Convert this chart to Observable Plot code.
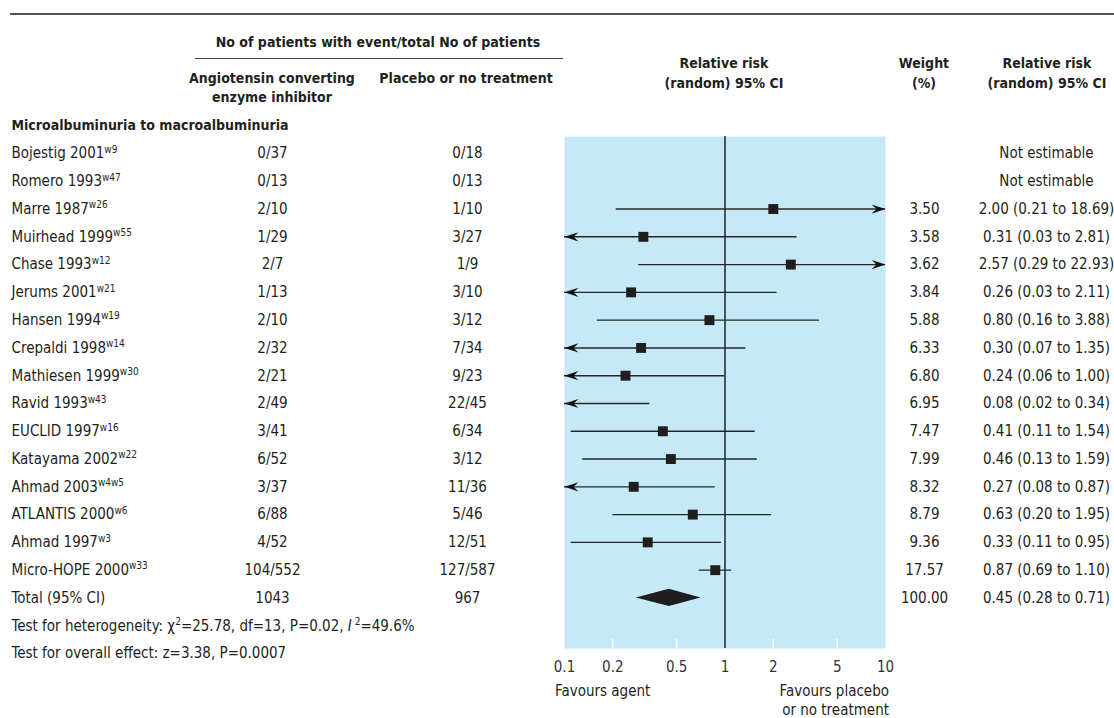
<!DOCTYPE html>
<html>
<head>
<meta charset="utf-8">
<script src="https://cdn.jsdelivr.net/npm/d3@7"></script>
<script src="https://cdn.jsdelivr.net/npm/@observablehq/plot@0.6"></script>
<style>
  html, body { margin: 0; padding: 0; background: #fff; }
  #wrap { position: relative; width: 1114px; height: 718px; overflow: hidden;
          font-family: "Liberation Sans Narrow", "DejaVu Sans Condensed", sans-serif; color: #231f20; font-size: 15px; }
  #wrap svg { position: absolute; left: 0; top: 0; }
  .h { position: absolute; font-weight: bold; font-size: 14px; text-align: center; line-height: 19px; white-space: nowrap; transform: translateX(-50%); }
  .t { position: absolute; white-space: nowrap; line-height: 19px; }
  .rule { position: absolute; height: 0; }
</style>
</head>
<body>
<div id="wrap">
  <div class="rule" style="left:10px; top:13px; width:1104px; border-top:2px solid #555;"></div>
  <div class="h" style="left:378px; top:32.5px;">No of patients with event/total No of patients</div>
  <div class="rule" style="left:195px; top:58px; width:368px; border-top:1.5px solid #444;"></div>
  <div class="h" style="left:272px; top:68.5px;">Angiotensin converting<br>enzyme inhibitor</div>
  <div class="h" style="left:466px; top:68.5px;">Placebo or no treatment</div>
  <div class="h" style="left:724px; top:53px; line-height:20px;">Relative risk<br>(random) 95% CI</div>
  <div class="h" style="left:924px; top:53px; line-height:20px;">Weight<br>(%)</div>
  <div class="h" style="left:1047px; top:53px; line-height:20px;">Relative risk<br>(random) 95% CI</div>
  <div class="t" style="left:555px; top:682px;">Favours agent</div>
  <div class="t" style="left:889px; top:682px; transform:translateX(-100%); text-align:right;">Favours placebo<br>or no treatment</div>
</div>
<script>
// ---------- data ----------
const subgroupTitle = "Microalbuminuria to macroalbuminuria";
const studies = ["Bojestig 2001", "Romero 1993", "Marre 1987", "Muirhead 1999", "Chase 1993", "Jerums 2001",
  "Hansen 1994", "Crepaldi 1998", "Mathiesen 1999", "Ravid 1993", "EUCLID 1997", "Katayama 2002",
  "Ahmad 2003", "ATLANTIS 2000", "Ahmad 1997", "Micro-HOPE 2000"];
const refs = ["w9", "w47", "w26", "w55", "w12", "w21", "w19", "w14", "w30", "w43", "w16", "w22", "w4w5", "w6", "w3", "w33"];
const aceEvents = ["0/37", "0/13", "2/10", "1/29", "2/7", "1/13", "2/10", "2/32", "2/21", "2/49", "3/41", "6/52", "3/37", "6/88", "4/52", "104/552"];
const placeboEvents = ["0/18", "0/13", "1/10", "3/27", "1/9", "3/10", "3/12", "7/34", "9/23", "22/45", "6/34", "3/12", "11/36", "5/46", "12/51", "127/587"];
const rrValues = [null, null, 2.00, 0.31, 2.57, 0.26, 0.80, 0.30, 0.24, 0.08, 0.41, 0.46, 0.27, 0.63, 0.33, 0.87];
const ciLower  = [null, null, 0.21, 0.03, 0.29, 0.03, 0.16, 0.07, 0.06, 0.02, 0.11, 0.13, 0.08, 0.20, 0.11, 0.69];
const ciUpper  = [null, null, 18.69, 2.81, 22.93, 2.11, 3.88, 1.35, 1.00, 0.34, 1.54, 1.59, 0.87, 1.95, 0.95, 1.10];
const weights  = [null, null, 3.50, 3.58, 3.62, 3.84, 5.88, 6.33, 6.80, 6.95, 7.47, 7.99, 8.32, 8.79, 9.36, 17.57];
const totalLabel = "Total (95% CI)";
const totalAce = "1043";
const totalPlacebo = "967";
const totalRR = 0.45, totalLower = 0.28, totalUpper = 0.71, totalWeight = 100.00;
const heterogeneityText = "Test for heterogeneity: χ^2^=25.78, df=13, P=0.02, *I*^ 2^=49.6%";
const overallText = "Test for overall effect: z=3.38, P=0.0007";
const xTicks = [0.1, 0.2, 0.5, 1, 2, 5, 10];

// ---------- layout (pixels) ----------
const L = { width: 1114, height: 718, plotLeft: 564, plotRight: 885, plotTop: 136, plotBottom: 648,
  firstRowY: 125.2, lastRowY: 653, studyX: 11, aceX: 272, placeboX: 467, weightX: 924, rrX: 1046 };
const INK = "#231f20";
const FONT = '"Liberation Sans Narrow", "DejaVu Sans Condensed", sans-serif';

// ---------- derived table ----------
const rows = studies.map((s, i) => ({
  i, label: `${s}^${refs[i]}^`, ace: aceEvents[i], pla: placeboEvents[i],
  rr: rrValues[i], lo: ciLower[i], hi: ciUpper[i], w: weights[i]
}));
const totalRow = { i: studies.length, label: totalLabel, ace: totalAce, pla: totalPlacebo,
  rr: totalRR, lo: totalLower, hi: totalUpper, w: totalWeight };
const allRows = [...rows, totalRow];
const notes = [{ i: studies.length + 1, label: heterogeneityText }, { i: studies.length + 2, label: overallText }];
const header = [{ i: -1, label: subgroupTitle }];
const est = rows.filter(d => d.rr != null);
const xMin = xTicks[0], xMax = xTicks[xTicks.length - 1];
const fmt = v => v.toFixed(2);
const rrText = d => d.rr == null ? "Not estimable" : `${fmt(d.rr)} (${fmt(d.lo)} to ${fmt(d.hi)})`;
const diamond = [
  { x: totalRow.lo, y1: totalRow.i, y2: totalRow.i },
  { x: totalRow.rr, y1: totalRow.i - 0.31, y2: totalRow.i + 0.31 },
  { x: totalRow.hi, y1: totalRow.i, y2: totalRow.i }
];

// barbed arrowhead, tip at origin pointing right
const stealth = { draw(ctx) { ctx.moveTo(0, 0); ctx.lineTo(-14, -4.6); ctx.lineTo(-9, 0); ctx.lineTo(-14, 4.6); ctx.closePath(); } };

const textCol = (key, anchorSide, xPos, opts = {}) => Plot.text(opts.data || allRows, {
  y: "i", text: key, frameAnchor: anchorSide,
  dx: xPos - (anchorSide === "left" ? L.plotLeft : L.plotRight),
  textAnchor: opts.textAnchor || "middle", fill: INK,
  fontWeight: opts.fontWeight, fontSize: opts.fontSize
});

const chart = Plot.plot({
  width: L.width, height: L.height,
  marginLeft: L.plotLeft, marginRight: L.width - L.plotRight,
  marginTop: L.plotTop, marginBottom: L.height - L.plotBottom,
  style: { fontFamily: FONT, fontSize: "15px", color: INK, background: "transparent", overflow: "visible" },
  x: { type: "log", domain: [xMin, xMax], axis: null },
  y: { type: "linear", domain: [-1, studies.length + 2], range: [L.firstRowY, L.lastRowY], axis: null },
  marks: [
    Plot.frame({ fill: "#c6e9f8", stroke: null }),
    Plot.axisX({ ticks: xTicks.filter(t => t > xMin && t < xMax && t !== 1), tickSize: 9, dy: -9, stroke: "white", strokeWidth: 1.5, text: null, label: null }),
    Plot.axisX({ ticks: xTicks, tickSize: 0, tickPadding: 13, tickFormat: d => `${d}`, fill: "#333", label: null }),
    Plot.ruleX([1], { stroke: "#222", strokeWidth: 1.5 }),
    Plot.ruleY(est, { y: "i", x1: d => Math.max(d.lo, xMin), x2: d => Math.min(d.hi, xMax), stroke: "#262626", strokeWidth: 1.4 }),
    Plot.dot(est.filter(d => d.lo < xMin), { x: () => xMin, y: "i", symbol: stealth, r: 6, rotate: 180, fill: "#111", stroke: null }),
    Plot.dot(est.filter(d => d.hi > xMax), { x: () => xMax, y: "i", symbol: stealth, r: 6, fill: "#111", stroke: null }),
    Plot.dot(est.filter(d => d.rr >= xMin && d.rr <= xMax), { x: "rr", y: "i", symbol: "square", r: 5.6, fill: "#1f1d1e", stroke: null }),
    Plot.areaY(diamond, { x: "x", y1: "y1", y2: "y2", fill: "#1f1d1e" }),
    textCol("label", "left", L.studyX, { textAnchor: "start" }),
    textCol("label", "left", L.studyX, { textAnchor: "start", data: notes }),
    textCol("label", "left", L.studyX, { textAnchor: "start", data: header, fontWeight: "bold", fontSize: 14 }),
    textCol("ace", "left", L.aceX),
    textCol("pla", "left", L.placeboX),
    textCol(d => d.w == null ? "" : fmt(d.w), "right", L.weightX),
    textCol(rrText, "right", L.rrX)
  ]
});

// superscript (^..^) and italic (*..*) markup -> tspans
d3.select(chart).selectAll("text").each(function () {
  const t = this.textContent;
  if (!/[\^*]/.test(t) || this.querySelector("tspan")) return;
  const sel = d3.select(this);
  sel.text(null);
  let raised = false;
  for (const p of t.split(/(\^[^^]*\^|\*[^*]*\*)/).filter(s => s)) {
    if (p.startsWith("^")) {
      sel.append("tspan").attr("dy", raised ? 0 : -5.5).attr("font-size", 10).text(p.slice(1, -1));
      raised = true;
    } else {
      const ts = sel.append("tspan").attr("dy", raised ? 5.5 : 0).text(p.startsWith("*") ? p.slice(1, -1) : p);
      if (p.startsWith("*")) ts.attr("font-style", "italic");
      raised = false;
    }
  }
});

document.getElementById("wrap").prepend(chart);
</script>
</body>
</html>
